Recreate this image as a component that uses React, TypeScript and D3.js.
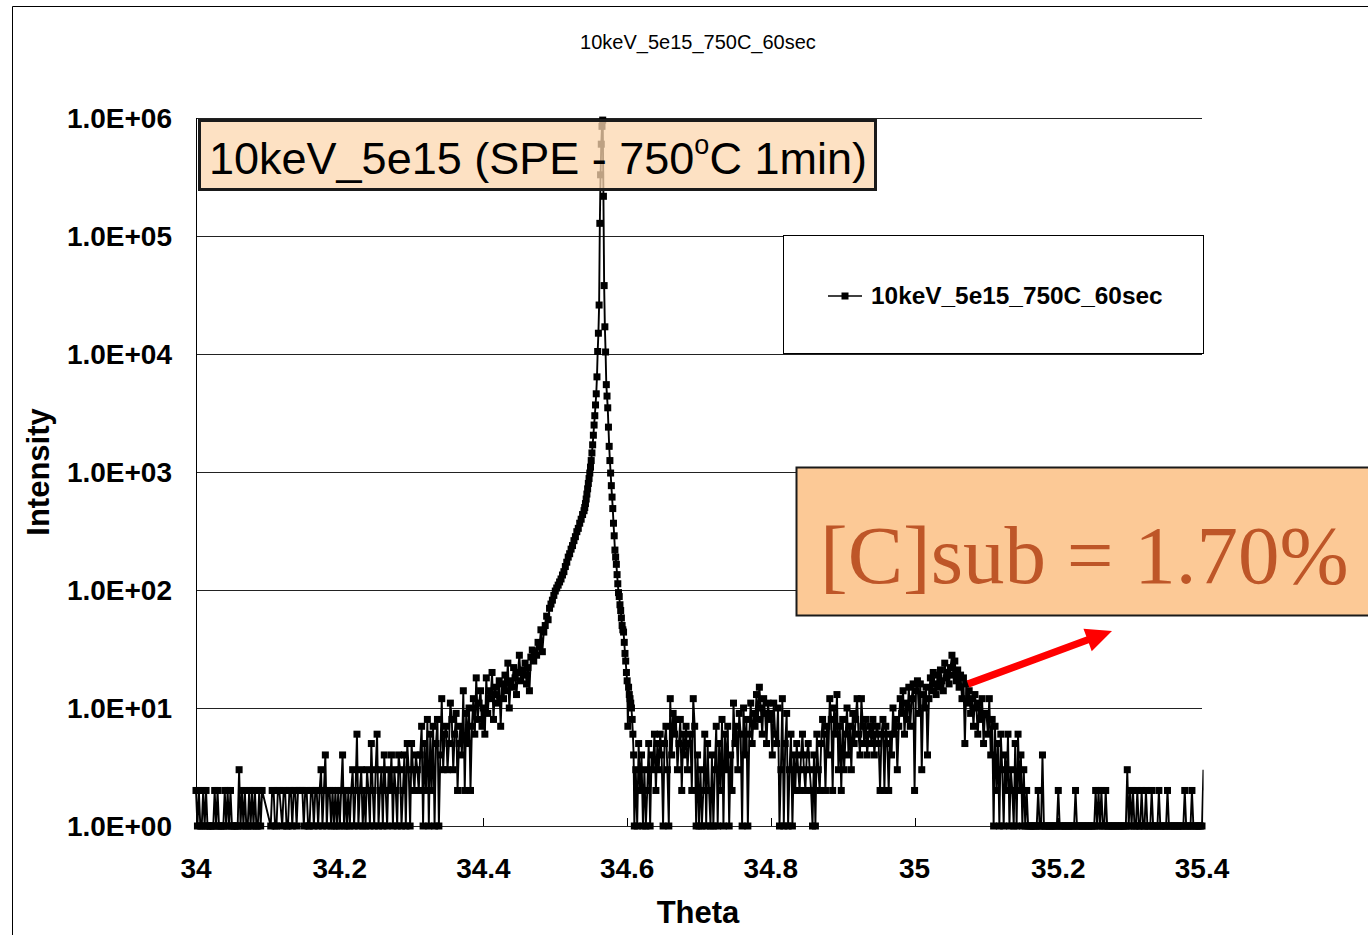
import React from 'react';
import * as d3 from 'd3';

const W = 1368;
const H = 935;

const chartTitle = '10keV_5e15_750C_60sec';
const seriesName = '10keV_5e15_750C_60sec';
const xAxisTitle = 'Theta';
const yAxisTitle = 'Intensity';
const boxLabelMain = '10keV_5e15 (SPE - 750';
const boxLabelSup = 'o';
const boxLabelTail = 'C 1min)';
const resultLabel = '[C]sub = 1.70%';

const xTicks = [34, 34.2, 34.4, 34.6, 34.8, 35, 35.2, 35.4];
const xTickLabels = ['34', '34.2', '34.4', '34.6', '34.8', '35', '35.2', '35.4'];
const yTicks = [1, 10, 100, 1000, 10000, 100000, 1000000];
const yTickLabels = ['1.0E+00', '1.0E+01', '1.0E+02', '1.0E+03', '1.0E+04', '1.0E+05', '1.0E+06'];

// Intensity counts (0 = no plotted point)
// 34.000 - 34.098, step 0.002
const seg34_0 = [2,1,2,1,1,2,1,2,1,1, 1,1,1,2,1,2,1,1,1,1, 2,1,2,1,2,1,1,1,1,1, 3,1,2,1,2,1,1,2,1,2, 1,2,1,1,2,1,2,0,0,0];
// 34.100 - 34.198
const seg34_1 = [0,0,1,2,2,1,1,2,2,0, 1,2,2,1,1,2,2,1,2,2, 1,2,2,2,2,1,2,2,1,1, 2,2,1,2,2,1,2,3,1,2, 4,1,2,2,1,2,1,2,1,2];
// 34.200 - 34.298
const seg34_2 = [1,2,4,1,2,1,2,1,2,3, 1,2,6,1,2,3,1,2,1,3, 2,1,5,2,1,3,6,1,2,3, 1,4,2,1,3,2,4,1,3,2, 1,4,3,1,2,4,1,5,3,1];
// 34.300 - 34.398
const seg34_3 = [5,3,2,4,3,2,4,7,1,5, 2,8,1,6,2,7,1,5,8,1, 4,12,3,6,7,3,5,11,8,3, 6,9,2,5,7,4,14,2,9,5, 10,2,7,12,6,18,8,11,14,7];
// 34.400 - 34.498
const seg34_4 = [10,6,18,9,14,12,20,8,15,13, 11,17,7,16,12,19,14,24,10,17, 15,22,18,13,20,28,17,21,19,24, 16,22,14,27,31,25,30,28,36,33, 46,30,44,50,60,56,70,76,82,90];
// 34.500 - 34.538
const seg34_5 = [98,104,110,117,124,134,143,158,172,190, 203,222,238,262,283,312,333,368,398,436];
// 34.540 - 34.609, step 0.001 (peak)
const segPeak = [470,500,540,590,650,720,800,880,980,1100, 1250,1450,1700,2050,2500,3000,3700,4600,6400,10500, 15000,26000,128000,330000,600000,850000,960000,217000,38000,17000, 10400,5500,4400,3500,2400,1650,1250,980,766,613, 490,368,288,218,190,165,135,113,95,88, 75,67,58,50,46,44,36,29,25,20, 17,7,15,13,12,11,10,8,6,4];
// 34.610 - 34.698
const seg34_6 = [1,3,1,5,2,4,1,3,1,2, 5,1,4,3,6,2,5,3,6,4, 1,5,7,3,1,12,4,9,6,8, 3,5,8,2,6,4,7,3,5,6, 2,12,7,1,4];
// 34.700 - 34.798
const seg34_7 = [1,3,1,2,6,1,5,2,1,4, 1,3,7,1,5,2,8,1,6,3, 7,1,4,2,11,5,7,3,9,6, 1,10,4,8,1,6,11,5,9,7, 13,8,15,10,6,12,9,5,11,8];
// 34.800 - 34.898
const seg34_8 = [9,4,11,6,5,10,1,3,12,1, 5,9,1,3,6,1,4,2,5,3, 2,4,6,3,2,4,5,3,2,1, 4,1,6,3,2,5,8,6,2,7, 4,12,8,2,10,6,13,3,7,2];
// 34.900 - 34.998
const seg34_9 = [8,3,6,10,4,7,3,9,5,8, 12,6,4,12,7,5,8,4,6,7, 5,8,4,6,7,5,2,6,8,2, 7,5,2,6,4,10,6,8,3,7, 12,9,14,6,11,8,15,7,12,16];
// 35.000 - 35.098
const seg35_0 = [2,14,17,9,16,3,13,10,15,4, 12,18,14,20,16,13,19,15,21,17, 14,24,18,20,16,22,28,19,25,17, 21,15,19,12,18,5,16,11,14,9, 12,7,13,10,6,11,8,12,5,9];
// 35.100 - 35.198
const seg35_1 = [9,6,12,4,8,1,7,2,5,1, 6,3,1,4,2,6,1,3,2,1, 5,1,6,2,4,1,3,1,2,1, 1,1,1,1,1,1,2,1,1,4, 1,1,1,1,1,1,1,1,1,1];
// 35.200 - 35.298
const seg35_2 = [2,1,1,1,1,1,1,1,1,1, 1,1,2,1,1,1,1,1,1,1, 1,1,1,1,1,1,2,1,2,1, 2,1,1,2,1,1,1,1,1,1, 1,1,1,1,1,1,1,1,3,1];
// 35.300 - 35.404
const seg35_3 = [2,1,2,1,1,2,1,1,2,1, 1,2,1,1,1,2,1,1,1,1, 2,1,1,1,1,1,2,1,1,1, 1,1,1,1,1,1,1,1,2,1, 1,1,1,2,1,1,1,1,1,1, 1,3,2];

const segments = [
  { start: 34.0, step: 0.002, values: seg34_0 },
  { start: 34.1, step: 0.002, values: seg34_1 },
  { start: 34.2, step: 0.002, values: seg34_2 },
  { start: 34.3, step: 0.002, values: seg34_3 },
  { start: 34.4, step: 0.002, values: seg34_4 },
  { start: 34.5, step: 0.002, values: seg34_5 },
  { start: 34.54, step: 0.001, values: segPeak },
  { start: 34.61, step: 0.002, values: seg34_6 },
  { start: 34.7, step: 0.002, values: seg34_7 },
  { start: 34.8, step: 0.002, values: seg34_8 },
  { start: 34.9, step: 0.002, values: seg34_9 },
  { start: 35.0, step: 0.002, values: seg35_0 },
  { start: 35.1, step: 0.002, values: seg35_1 },
  { start: 35.2, step: 0.002, values: seg35_2 },
  { start: 35.3, step: 0.002, values: seg35_3 },
];

type P = { t: number; v: number };

function buildPoints(): P[] {
  const pts: P[] = [];
  segments.forEach((s) => {
    s.values.forEach((v, i) => {
      if (v > 0) pts.push({ t: +(s.start + i * s.step).toFixed(4), v });
    });
  });
  return pts;
}

const SANS = '"Liberation Sans", Arial, Helvetica, sans-serif';
const SERIF = '"Liberation Serif", "Times New Roman", Times, serif';

export default function App() {
  const x = d3.scaleLinear().domain([34, 35.4]).range([196, 1202]);
  const y = d3.scaleLog().domain([1, 1e6]).range([826, 118]);
  const pts = buildPoints();
  const lineGen = d3.line<P>().x((d) => x(d.t)).y((d) => y(d.v));
  const linePath = lineGen(pts) || '';
  const visible = pts.filter((p) => p.t <= 35.4 + 1e-9);
  const ms = 7;

  // arrow geometry (annotation)
  const ax0 = 968, ay0 = 684, ax1 = 1112, ay1 = 631;
  const ang = Math.atan2(ay1 - ay0, ax1 - ax0);
  const headLen = 26, headW = 12, shaftW = 3.6;
  const bx = ax1 - headLen * Math.cos(ang), by = ay1 - headLen * Math.sin(ang);
  const nx = -Math.sin(ang), ny = Math.cos(ang);
  const arrowPts = [
    [ax0 + nx * shaftW, ay0 + ny * shaftW],
    [bx + nx * shaftW, by + ny * shaftW],
    [bx + nx * headW, by + ny * headW],
    [ax1, ay1],
    [bx - nx * headW, by - ny * headW],
    [bx - nx * shaftW, by - ny * shaftW],
    [ax0 - nx * shaftW, ay0 - ny * shaftW],
  ].map((p) => p.join(',')).join(' ');

  return (
    <svg width={W} height={H} style={{ position: 'absolute', left: 0, top: 0, background: '#fff' }}>
      <defs>
        <clipPath id="plotClip">
          <rect x={185} y={105} width={x(35.4) + 1.6 - 185} height={735} />
        </clipPath>
      </defs>
      {/* chart area border */}
      <path d={`M12.5,${H} V6.5 H${W}`} fill="none" stroke="#000" strokeWidth={1} />

      {/* title */}
      <text x={698} y={49} textAnchor="middle" fontFamily={SANS} fontSize={20} fill="#000">{chartTitle}</text>

      {/* gridlines */}
      {yTicks.map((t) => (
        <line key={'g' + t} x1={x(34)} x2={x(35.4)} y1={Math.round(y(t)) + 0.5} y2={Math.round(y(t)) + 0.5} stroke="#222" strokeWidth={1} />
      ))}
      {/* axes */}
      <line x1={x(34) + 0.5} x2={x(34) + 0.5} y1={y(1e6)} y2={y(1)} stroke="#000" strokeWidth={1} />
      {xTicks.map((t) => (
        <line key={'xt' + t} x1={Math.round(x(t)) + 0.5} x2={Math.round(x(t)) + 0.5} y1={y(1)} y2={y(1) - 8} stroke="#000" strokeWidth={1} />
      ))}

      {/* y tick labels */}
      {yTicks.map((t, i) => (
        <text key={'yl' + t} x={172} y={y(t) + 10} textAnchor="end" fontFamily={SANS} fontWeight="bold" fontSize={28} fill="#000">{yTickLabels[i]}</text>
      ))}
      {/* x tick labels */}
      {xTicks.map((t, i) => (
        <text key={'xl' + t} x={x(t)} y={878} textAnchor="middle" fontFamily={SANS} fontWeight="bold" fontSize={28} fill="#000">{xTickLabels[i]}</text>
      ))}
      <text x={698} y={923} textAnchor="middle" fontFamily={SANS} fontWeight="bold" fontSize={31} fill="#000">{xAxisTitle}</text>
      <text transform="translate(49,472) rotate(-90)" textAnchor="middle" fontFamily={SANS} fontWeight="bold" fontSize={31} fill="#000">{yAxisTitle}</text>

      {/* series */}
      <path d={linePath} fill="none" stroke="#000" strokeWidth={1.9} clipPath="url(#plotClip)" />
      {visible.map((p, i) => (
        <rect key={'m' + i} x={x(p.t) - ms / 2} y={y(p.v) - ms / 2} width={ms} height={ms} fill="#000" />
      ))}

      {/* annotation box 1 */}
      <rect x={199.5} y={120.5} width={676} height={69} fill="#FCD7AF" fillOpacity={0.75} stroke="#1a1a1a" strokeWidth={3} />
      <text x={209} y={174} fontFamily={SANS} fontSize={45} fill="#000">
        {boxLabelMain}
        <tspan fontSize={27} dy={-20}>{boxLabelSup}</tspan>
        <tspan dy={20}>{boxLabelTail}</tspan>
      </text>

      {/* legend */}
      <rect x={783.5} y={235.5} width={420} height={118} fill="#fff" stroke="#000" strokeWidth={1} />
      <line x1={828} x2={862} y1={296} y2={296} stroke="#000" strokeWidth={1.5} />
      <rect x={845 - ms / 2} y={296 - ms / 2} width={ms} height={ms} fill="#000" />
      <text x={871} y={304} fontFamily={SANS} fontWeight="bold" fontSize={24.4} fill="#000">{seriesName}</text>

      {/* annotation box 2 */}
      <rect x={796.5} y={467.5} width={700} height={148} fill="#FCC996" stroke="#1a1a1a" strokeWidth={2} />
      <text x={820} y={583} fontFamily={SERIF} fontSize={83} fill="#BE5628">{resultLabel}</text>

      {/* arrow */}
      <polygon points={arrowPts} fill="#FF0000" />
    </svg>
  );
}
